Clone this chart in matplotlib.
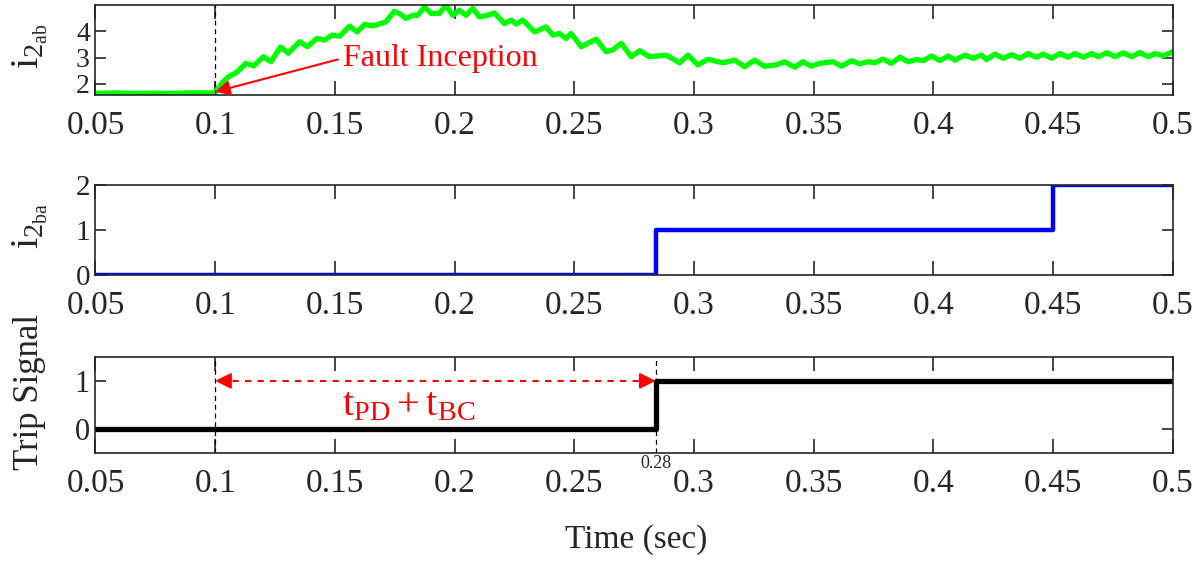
import matplotlib
matplotlib.use("Agg")
import matplotlib.pyplot as plt
from matplotlib.ticker import FormatStrFormatter

plt.rcParams['font.family'] = ['Liberation Serif', 'DejaVu Serif']
plt.rcParams['mathtext.fontset'] = 'custom'
plt.rcParams['mathtext.rm'] = 'Liberation Serif'
plt.rcParams['mathtext.it'] = 'Liberation Serif'

# i_2ab (time in s, value)
t_ab = [0.050, 0.058, 0.066, 0.074, 0.082, 0.090, 0.0993, 0.1003, 0.1030, 0.1057,
        0.1089, 0.1128, 0.1161, 0.1201, 0.1233, 0.1273, 0.1305, 0.1353, 0.1385, 0.1425,
        0.1457, 0.1489, 0.1521, 0.1561, 0.1593, 0.1625, 0.1650, 0.1673, 0.1713, 0.1748,
        0.1769, 0.1797, 0.1825, 0.1846, 0.1874, 0.1902, 0.1936, 0.1964, 0.1992, 0.2020,
        0.2048, 0.2076, 0.2104, 0.2138, 0.2166, 0.2208, 0.2236, 0.2257, 0.2285, 0.2334,
        0.2382, 0.2410, 0.2438, 0.2466, 0.2487, 0.2529, 0.2556, 0.2592, 0.2633, 0.2661,
        0.2696, 0.2738, 0.2773, 0.2814, 0.2884, 0.2940, 0.2975, 0.3016, 0.3058, 0.3121,
        0.3170, 0.3212, 0.3253, 0.3295, 0.3344, 0.3379, 0.3421, 0.3455, 0.3490, 0.3525,
        0.3581, 0.3616, 0.3658, 0.3692, 0.3727, 0.3755, 0.3790, 0.3825, 0.3860, 0.3894,
        0.3929, 0.3957, 0.3992, 0.4027, 0.4062, 0.4090, 0.4131, 0.4166, 0.4201, 0.4222,
        0.4257, 0.4292, 0.4327, 0.4361, 0.4396, 0.4431, 0.4459, 0.4494, 0.4529, 0.4563,
        0.4591, 0.4626, 0.4661, 0.4689, 0.4724, 0.4759, 0.4793, 0.4828, 0.4863, 0.4898,
        0.4926, 0.4961, 0.5000]
i_ab = [1.64, 1.66, 1.64, 1.65, 1.64, 1.66, 1.66, 1.71, 2.05, 2.28,
        2.43, 2.78, 2.68, 3.03, 2.84, 3.40, 3.16, 3.60, 3.41, 3.72,
        3.66, 3.85, 3.81, 4.19, 3.97, 4.26, 4.20, 4.23, 4.35, 4.75,
        4.67, 4.48, 4.60, 4.60, 4.92, 4.67, 4.67, 4.98, 4.60, 4.79,
        4.60, 4.86, 4.54, 4.60, 4.69, 4.29, 4.42, 4.27, 4.42, 3.97,
        4.16, 3.85, 3.91, 3.72, 3.91, 3.41, 3.54, 3.69, 3.22, 3.29,
        3.54, 3.03, 3.26, 3.03, 3.09, 2.80, 3.09, 2.72, 2.93, 2.80,
        2.90, 2.65, 2.90, 2.67, 2.72, 2.84, 2.63, 2.84, 2.67, 2.78,
        2.84, 2.67, 2.88, 2.76, 2.84, 2.80, 2.94, 2.78, 3.01, 2.84,
        2.92, 2.88, 3.06, 2.88, 3.06, 2.90, 3.09, 2.97, 3.09, 2.92,
        3.13, 2.97, 3.11, 2.97, 3.15, 3.01, 3.13, 2.97, 3.15, 3.01,
        3.15, 3.01, 3.15, 3.03, 3.18, 3.03, 3.18, 3.03, 3.19, 3.03,
        3.15, 3.06, 3.22]

# i_2ba : step signal
t_ba = [0.05, 0.284, 0.284, 0.45, 0.45, 0.5]
i_ba = [0, 0, 1, 1, 2, 2]

# trip signal
t_trip = [0.05, 0.284, 0.284, 0.5]
trip = [0, 0, 1, 1]

t_fault = 0.1
t_trip_on = 0.284
xticks = [0.05, 0.1, 0.15, 0.2, 0.25, 0.3, 0.35, 0.4, 0.45, 0.5]

fig = plt.figure(figsize=(11.98, 5.63), dpi=100)
L, W = 0.0797, 0.8992
ax1 = fig.add_axes([L, 0.8313, W, 0.1598])
ax2 = fig.add_axes([L, 0.5115, W, 0.1599])
ax3 = fig.add_axes([L, 0.1948, W, 0.1716])

for ax in (ax1, ax2, ax3):
    ax.set_xlim(0.05, 0.5)
    ax.set_xticks(xticks)
    ax.xaxis.set_major_formatter(FormatStrFormatter('%g'))
    ax.tick_params(direction='in', top=True, right=True,
                   width=1.2, colors='#262626', labelcolor='#262626')
    ax.tick_params(axis='x', length=10, pad=11, labelsize=24)
    ax.tick_params(axis='y', length=8, pad=4, labelsize=22)
    for s in ax.spines.values():
        s.set_linewidth(1.2)
        s.set_color('#262626')

# top panel
ax1.plot(t_ab, i_ab, color='#00ff00', lw=3.8, solid_joinstyle='round')
ax1.set_ylim(1.58, 4.99)
ax1.set_yticks([2, 3, 4])
ax1.tick_params(axis='y', labelsize=20)
ax1.axvline(t_fault, color='black', lw=0.9, ls=(0, (4, 3)))
ax1.annotate('Fault Inception', xy=(t_fault, 1.70), xytext=(0.1535, 2.98),
             color='red', fontsize=23, ha='left', va='center',
             arrowprops=dict(arrowstyle='-|>', color='red', lw=1.5,
                             mutation_scale=22, shrinkA=2, shrinkB=0,
                             relpos=(0, 0.5)))

# middle panel
ax2.plot(t_ba, i_ba, color='#0000ff', lw=3.2)
ax2.set_ylim(0, 2)
ax2.set_yticks([0, 1, 2])
ax2.tick_params(axis='y', labelsize=21)

# bottom panel
ax3.plot(t_trip, trip, color='black', lw=3.8)
ax3.set_ylim(-0.5, 1.5)
ax3.set_yticks([0, 1])
ax3.axvline(t_fault, color='black', lw=0.9, ls=(0, (4, 3)))
ax3.axvline(t_trip_on, color='black', lw=0.9, ls=(0, (4, 3)))
ax3.plot([0.102, 0.282], [1, 1], color='red', lw=1.5, ls=(0, (3, 3)))
ax3.annotate('', xy=(t_fault, 1), xytext=(t_fault + 0.004, 1),
             arrowprops=dict(arrowstyle='-|>', color='red', lw=1.5,
                             mutation_scale=24, shrinkA=0, shrinkB=0))
ax3.annotate('', xy=(t_trip_on, 1), xytext=(t_trip_on - 0.004, 1),
             arrowprops=dict(arrowstyle='-|>', color='red', lw=1.5,
                             mutation_scale=24, shrinkA=0, shrinkB=0))
ax3.text(0.181, 0.48, r'$\mathregular{t_{PD}+t_{BC}}$', color='red',
         fontsize=29, ha='center', va='center')
ax3.text(t_trip_on, -0.02, '0.28', transform=ax3.get_xaxis_transform(),
         fontsize=13, ha='center', va='top', color='#262626')

# axis labels
fig.text(30 / 1198, 1 - 46 / 563, r'$\mathregular{i_{2_{ab}}}$', rotation=90,
         fontsize=29, ha='center', va='center', color='#262626')
fig.text(30 / 1198, 1 - 226 / 563, r'$\mathregular{i_{2_{ba}}}$', rotation=90,
         fontsize=29, ha='center', va='center', color='#262626')
fig.text(30 / 1198, 1 - 392 / 563, 'Trip Signal', rotation=90,
         fontsize=25, ha='center', va='center', color='#262626')
fig.text(636 / 1198, 1 - 540 / 563, 'Time (sec)', fontsize=24,
         ha='center', va='center', color='#262626')

fig.savefig('out.png', dpi=100)
